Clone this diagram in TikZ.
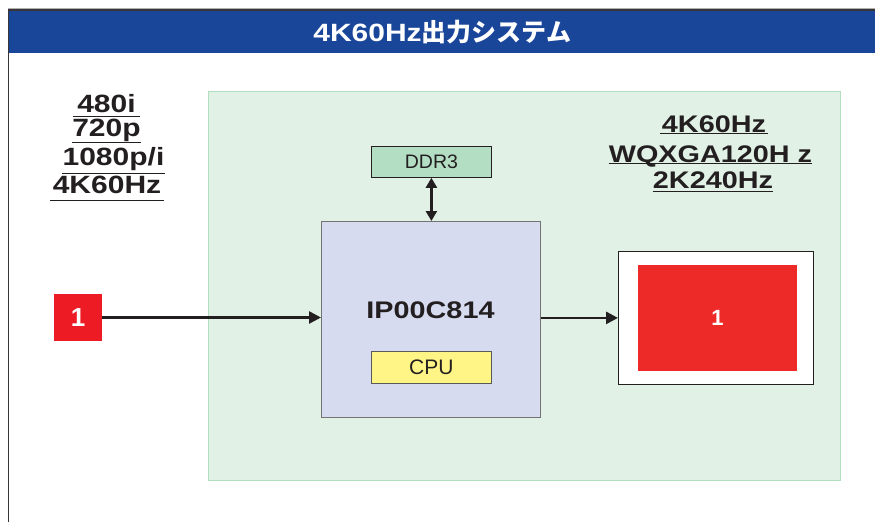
\documentclass[tikz,border=0pt]{standalone}
\usepackage{fontspec}
\setmainfont{Liberation Sans}
\newfontfamily\widefont{Liberation Sans}[FakeStretch=1.2]
\newfontfamily\cjk{Noto Sans CJK JP}
\usetikzlibrary{arrows.meta}
\definecolor{titleblue}{RGB}{26,70,153}
\definecolor{panelgreen}{RGB}{225,241,230}
\definecolor{panelline}{RGB}{178,223,192}
\definecolor{ddrgreen}{RGB}{179,222,196}
\definecolor{chipblue}{RGB}{214,219,239}
\definecolor{cpuyellow}{RGB}{255,245,135}
\definecolor{screenred}{RGB}{238,42,41}
\definecolor{inred}{RGB}{237,28,36}
\definecolor{ink}{RGB}{35,31,32}

\begin{document}
\begin{tikzpicture}[x=1pt,y=-1pt,
		box/.style={draw=ink,line width=0.8pt,anchor=north west,inner sep=0pt},
		lefttext/.style={font=\widefont\bfseries\fontsize{25}{25}\selectfont,text=ink,inner sep=0pt,anchor=base},
		righttext/.style={font=\widefont\bfseries\fontsize{24}{24}\selectfont,text=ink,inner sep=0pt,anchor=base},
		uline/.style={ink,line width=0.9pt},
		arr/.style={ink,line width=2.6pt,-{Triangle[length=12pt,width=12pt]}},
		arrboth/.style={ink,line width=2.4pt,{Triangle[length=10pt,width=11pt]}-{Triangle[length=10pt,width=11pt]}}]
	\useasboundingbox (0,0) rectangle (875,522);
	\fill[white] (0,0) rectangle (875,522);
	\node[fill=titleblue,anchor=north west,inner sep=0pt,minimum width=866pt,minimum height=43pt] (band) at (9,10) {};
	\node[text=white,inner sep=0pt] (title) at (band.center)
		{\bfseries\fontsize{25}{25}\selectfont{\widefont 4K60Hz}{\cjk 出力システム}};
	\draw[ink!90,line width=1.8pt] (8.5,522) -- (8.5,10) -- (875,10);
	\draw[gray!60,line width=0.6pt] (8,8.6) -- (875,8.6);

	\node[fill=panelgreen,draw=panelline,line width=1pt,anchor=north west,minimum width=632pt,minimum height=389pt,inner sep=0pt] (panel) at (208,91) {};

	\node[lefttext,minimum width=67pt] (fmt1) at (106.5,112) {480i};
	\node[lefttext,minimum width=67pt] (fmt2) at (106.5,136) {720p};
	\node[lefttext,minimum width=101pt] (fmt3) at (113.5,165) {1080p/i};
	\node[lefttext,minimum width=114pt] (fmt4) at (107,193) {4K60Hz};
	\draw[uline] ([yshift=-4pt]fmt1.base west) -- ([yshift=-4pt]fmt1.base east);
	\draw[uline] ([yshift=-6pt]fmt2.base west) -- ([yshift=-6pt]fmt2.base east);
	\draw[uline] ([yshift=-8pt]fmt3.base west) -- ([yshift=-8pt]fmt3.base east);
	\draw[uline] ([yshift=-7pt]fmt4.base west) -- ([yshift=-7pt]fmt4.base east);

	\node[righttext,minimum width=108pt] (res1) at (714,132) {4K60Hz};
	\node[righttext,minimum width=195pt] (res2) at (710.5,162) {WQXGA120H z};
	\node[righttext,minimum width=120pt] (res3) at (713,188) {2K240Hz};
	\draw[uline] ([yshift=-1.5pt]res1.base west) -- ([yshift=-1.5pt]res1.base east);
	\draw[uline] ([yshift=-1.5pt]res2.base west) -- ([yshift=-1.5pt]res2.base east);
	\draw[uline] ([yshift=-3pt]res3.base west) -- ([yshift=-3pt]res3.base east);

	\node[box,fill=ddrgreen,minimum width=120pt,minimum height=31pt] (ddr) at (371,146) {};
	\node[text=ink,font=\fontsize{19.5}{19.5}\selectfont] (ddrname) at (ddr.center) {DDR3};

	\node[box,draw=gray!90!black,fill=chipblue,minimum width=219pt,minimum height=196pt] (chip) at (321,221) {};
	\node[text=ink,inner sep=0pt,font=\widefont\bfseries\fontsize{24}{24}\selectfont] (chipname) at (430.5,310.5) {IP00C814};

	\node[box,draw=gray!70!black,fill=cpuyellow,minimum width=120pt,minimum height=32pt] (cpu) at (371,351) {};
	\node[text=ink,font=\fontsize{21}{21}\selectfont] (cpuname) at (cpu.center) {CPU};

	\node[box,fill=white,minimum width=195pt,minimum height=133pt] (screen) at (618,251) {};
	\node[fill=screenred,text=white,inner sep=0pt,minimum width=159pt,minimum height=106pt,font=\bfseries\fontsize{22}{22}\selectfont] (picture) at (717.5,318) {1};

	\node[fill=inred,text=white,inner sep=0pt,minimum width=48pt,minimum height=47pt,font=\bfseries\fontsize{26}{26}\selectfont] (src) at (78,317.5) {1};

	\draw[arr] (src) -- (src -| chip.west);
	\draw[arr] (chip.east |- screen) -- (screen.west);
	\draw[arrboth] (ddr) -- (ddr |- chip.north);
\end{tikzpicture}
\end{document}
